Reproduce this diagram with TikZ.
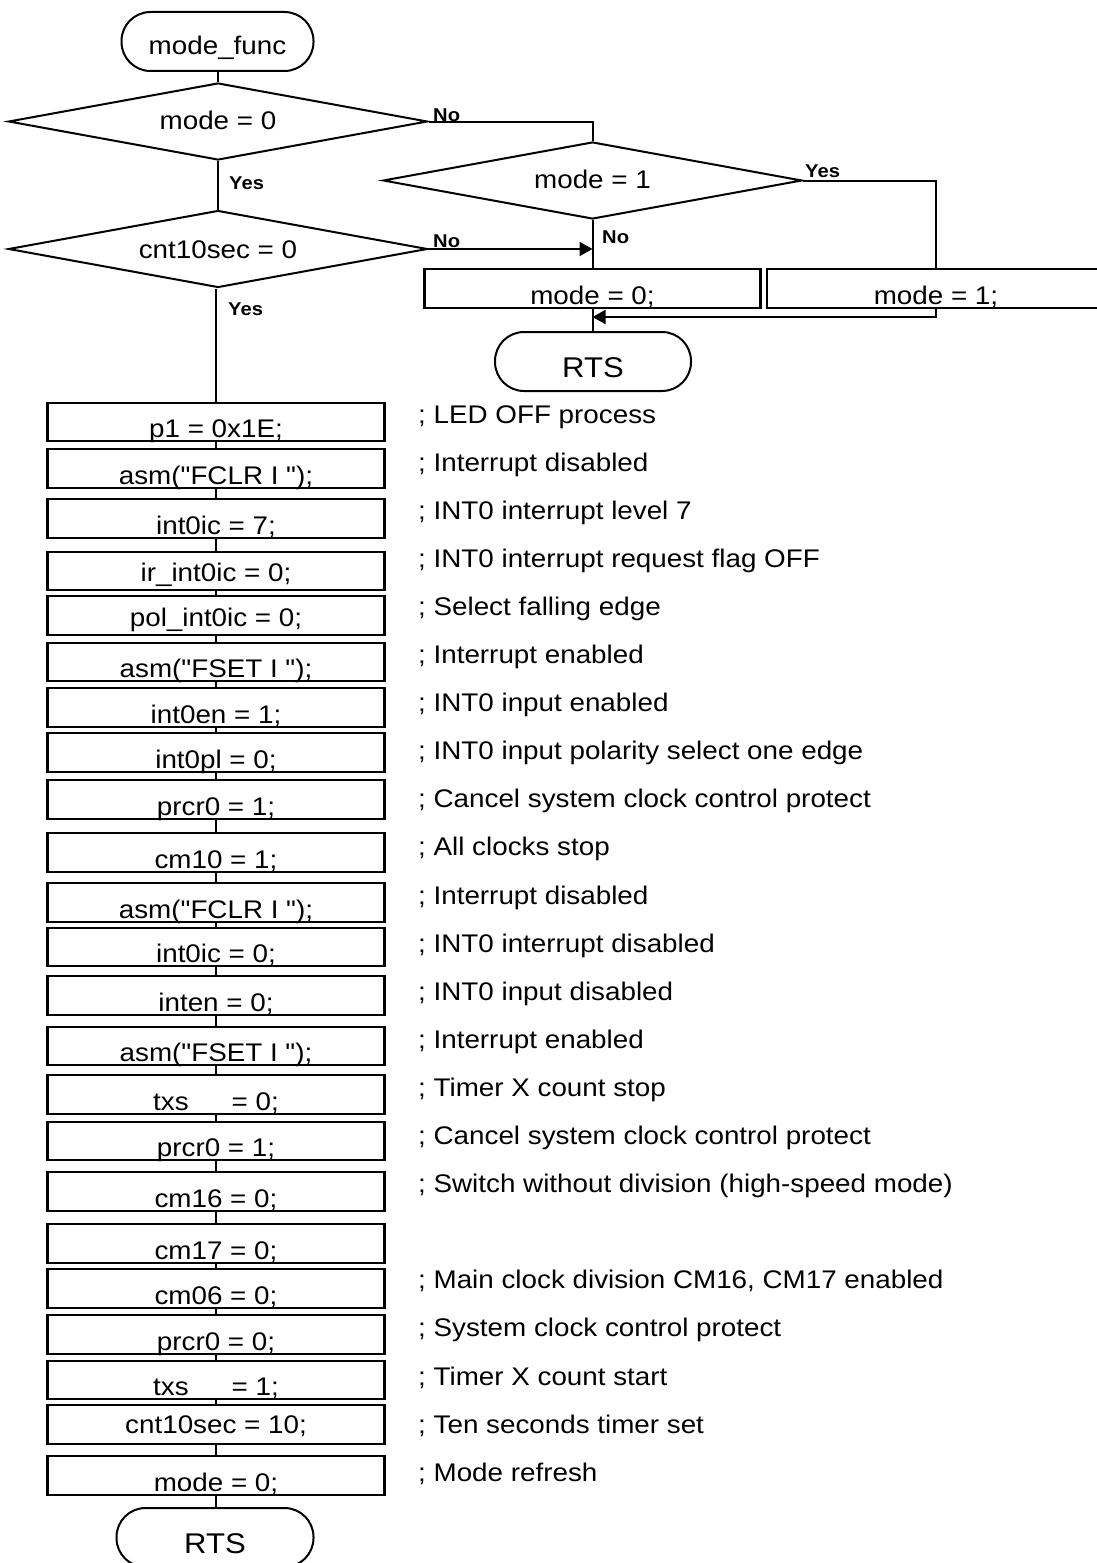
\documentclass[tikz,border=0pt]{standalone}
\usepackage{fontspec}
\setmainfont{Liberation Sans}[FakeStretch=1.09, Ligatures=TeXOff]
\usetikzlibrary{shapes.geometric,arrows.meta,calc}
\newcommand\flbox[5]{%
  \pgfmathsetmacro\flbxh{#3-#2-#4}%
  \node[box, text height=\flbxh pt, text depth=#4pt] (#1) at (216,#2) {#5};}
\newcommand\flcmt[2]{%
  \pgfmathsetmacro\flcy{423+48.1*#1}%
  \node[cmt] (c#1) at (418,\flcy) {#2};}
\begin{document}
\begin{tikzpicture}[x=1pt,y=-1pt,
  every node/.style={font=\fontsize{25.5}{30}\selectfont},
  box/.style={draw, line width=2.2pt, rectangle, inner sep=0pt, minimum width=337pt, anchor=north},
  dec/.style={draw, line width=2pt, diamond, aspect=5.45, inner sep=0pt, minimum width=419pt, minimum height=77pt, text height=18pt, text depth=3pt},
  term/.style={draw, line width=2pt, rectangle, rounded corners=29pt, minimum height=59pt, inner sep=0pt, text depth=0pt},
  yn/.style={font=\fontsize{18.5}{20}\selectfont\bfseries, inner sep=0pt, anchor=base west},
  cmt/.style={inner sep=0pt, anchor=base west},
  line/.style={line width=2pt},
  arr/.style={line width=2pt, -{Triangle[length=13pt,width=14pt]}},
]
\useasboundingbox (0,0) rectangle (1096,1563);

% start terminal
\node[term, minimum width=192pt, text height=27pt] (mf) at (217.5,41.5) {mode\_func};

% decisions
\node[dec] (d1) at (218,121.5) {mode = 0};
\node[dec] (d2) at (592.5,180.5) {mode = 1};
\node[dec, text depth=0pt] (d3) at (218,249) {cnt10sec = 0};

% right branch boxes
\node[box, minimum width=336pt, text height=35.5pt, text depth=3.5pt] (bm0) at (592.5,267.5) {mode = 0;};
\node[box, minimum width=338pt, text height=35.5pt, text depth=3.5pt] (bm1) at (936,267.5) {mode = 1;};
\node[term, minimum width=196pt, text height=31pt, font=\fontsize{28.5}{32}\selectfont] (rts1) at (593,361.5) {RTS};
\coordinate (j2) at (592.5,317);

% main column boxes
\flbox{b1}{402}{440}{4}{p1 = 0x1E;}
\flbox{b2}{448}{487}{4}{asm("FCLR I ");}
\flbox{b3}{498}{537}{4}{int0ic = 7;}
\flbox{b4}{551}{589}{9}{ir\_int0ic = 0;}
\flbox{b5}{595}{634}{9}{pol\_int0ic = 0;}
\flbox{b6}{642}{680}{4}{asm("FSET I ");}
\flbox{b7}{687}{726}{4}{int0en = 1;}
\flbox{b8}{732}{771}{4}{int0pl = 0;}
\flbox{b9}{779}{818}{4}{prcr0 = 1;}
\flbox{b10}{832}{871}{4}{cm10 = 1;}
\flbox{b11}{882}{921}{4}{asm("FCLR I ");}
\flbox{b12}{927}{965}{4}{int0ic = 0;}
\flbox{b13}{975}{1014}{4}{inten = 0;}
\flbox{b14}{1026}{1064}{4}{asm("FSET I ");}
\flbox{b15}{1074}{1113}{4}{txs\hspace{43pt}= 0;}
\flbox{b16}{1121}{1159}{4}{prcr0 = 1;}
\flbox{b17}{1171}{1210}{4}{cm16 = 0;}
\flbox{b18}{1223}{1262}{4}{cm17 = 0;}
\flbox{b19}{1268}{1307}{4}{cm06 = 0;}
\flbox{b20}{1314}{1353}{4}{prcr0 = 0;}
\flbox{b21}{1360}{1398}{4}{txs\hspace{43pt}= 1;}
\flbox{b22}{1404}{1443}{11}{cnt10sec = 10;}
\flbox{b23}{1455}{1494}{4}{mode = 0;}
\node[term, minimum width=197pt, text height=31pt, font=\fontsize{28.5}{32}\selectfont] (rts2) at (215,1537.5) {RTS};

% Yes / No labels
\node[yn] (no1) at (433,121) {No};
\node[yn] (yes1) at (229,189) {Yes};
\node[yn] (yes2) at (228,315) {Yes};
\node[yn] (no2) at (433,247) {No};
\node[yn] (no3) at (602,243.5) {No};
\node[yn] (yes3) at (805,177) {Yes};

% comments
\flcmt{0}{; LED OFF process}
\flcmt{1}{; Interrupt disabled}
\flcmt{2}{; INT0 interrupt level 7}
\flcmt{3}{; INT0 interrupt request flag OFF}
\flcmt{4}{; Select falling edge}
\flcmt{5}{; Interrupt enabled}
\flcmt{6}{; INT0 input enabled}
\flcmt{7}{; INT0 input polarity select one edge}
\flcmt{8}{; Cancel system clock control protect}
\flcmt{9}{; All clocks stop}
\flcmt{10}{; Interrupt disabled}
\flcmt{11}{; INT0 interrupt disabled}
\flcmt{12}{; INT0 input disabled}
\flcmt{13}{; Interrupt enabled}
\flcmt{14}{; Timer X count stop}
\flcmt{15}{; Cancel system clock control protect}
\flcmt{16}{; Switch without division (high-speed mode)}
\flcmt{18}{; Main clock division CM16, CM17 enabled}
\flcmt{19}{; System clock control protect}
\flcmt{20}{; Timer X count start}
\flcmt{21}{; Ten seconds timer set}
\flcmt{22}{; Mode refresh}

% connectors
\draw[line] (mf.south) -- (mf.south |- d1.north);
\draw[line] (d1.east) -| (d2.north);
\draw[line] (d1.south) -- (d3.north);
\draw[line] (d2.east) -| (bm1.north);
\draw[line] (d2.south) -- (bm0.north);
\draw[arr] (d3.east) -- (d3.east -| d2.south);
\draw[arr] (bm1.south) |- (j2);
\draw[line] (bm0.south) -- (bm0.south |- rts1.north);
\draw[line] (b1.north |- d3.south) -- (b1.north);
\foreach \i [evaluate=\i as \j using int(\i+1)] in {1,...,22} {
  \draw[line] (b\i.south) -- (b\j.north);
}
\draw[line] (b23.south) -- (b23.south |- rts2.north);
\end{tikzpicture}
\end{document}
